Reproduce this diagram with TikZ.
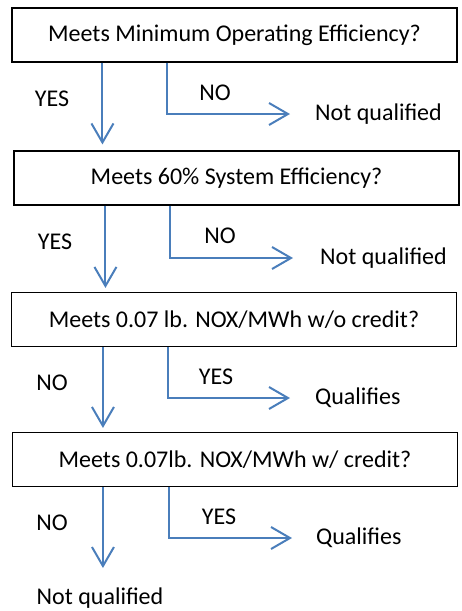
\documentclass[tikz,border=0pt]{standalone}
\usepackage{fontspec}
\setmainfont{Carlito}
\usetikzlibrary{arrows.meta}
\definecolor{arrblue}{HTML}{4A7EBB}
\begin{document}
\begin{tikzpicture}[x=1pt,y=-1pt,
  qbox/.style={draw=black, line width=1.1pt, minimum width=445pt, minimum height=54pt, inner sep=0pt, font=\fontsize{24}{28}\selectfont},
  lbl/.style={inner sep=0pt, font=\fontsize{24}{28}\selectfont},
  res/.style={inner sep=0pt, anchor=west, font=\fontsize{24}{28}\selectfont},
  arr/.style={draw=arrblue, line width=2pt, -{Straight Barb[length=19pt, width=22pt, line width=2pt]}}]
\useasboundingbox (0,0) rectangle (462,611);
\node[qbox] (b1) at (234.5,35) {Meets Minimum Operating Efficiency?};
\node[qbox] (b2) at (236.5,178) {Meets 60\% System Efficiency?};
\node[qbox] (b3) at (234,319.5) {Meets 0.07 lb. NOX/MWh w/o credit?};
\node[qbox] (b4) at (235,459.5) {Meets 0.07lb. NOX/MWh w/ credit?};
% section 1
\node[res] (r1) at (315,114) {Not qualified};
\node[lbl] (y1) at (52,99) {YES};
\node[lbl] (n1) at (215,93) {NO};
\draw[arr] (b1.south west) ++(91,0) coordinate (s1) -- ([yshift=6pt]s1 |- b2.north);
\draw[arr] (b1.south west) ++(156,0) coordinate (t1) |- ([xshift=-25pt]r1.west);
% section 2
\node[res] (r2) at (320,258) {Not qualified};
\node[lbl] (y2) at (55,242) {YES};
\node[lbl] (n2) at (220,236) {NO};
\draw[arr] (b2.south west) ++(92,0) coordinate (s2) -- ([yshift=4pt]s2 |- b3.north);
\draw[arr] (b2.south west) ++(157,0) coordinate (t2) |- ([xshift=-27pt]r2.west);
% section 3
\node[res] (r3) at (315,398) {Qualifies};
\node[lbl] (n3) at (52,383) {NO};
\node[lbl] (y3) at (216,377) {YES};
\draw[arr] (b3.south west) ++(92,0) coordinate (s3) -- ([yshift=4pt]s3 |- b4.north);
\draw[arr] (b3.south west) ++(157,0) coordinate (t3) |- ([xshift=-25pt]r3.west);
% section 4
\node[res] (r4) at (316,538) {Qualifies};
\node[lbl] (n4) at (52,523) {NO};
\node[lbl] (y4) at (219,517) {YES};
\node[lbl] (r5) at (100,598) {Not qualified};
\coordinate (e4) at (0,568);
\draw[arr] (b4.south west) ++(91,0) coordinate (s4) -- (s4 |- e4);
\draw[arr] (b4.south west) ++(157,0) coordinate (t4) |- ([xshift=-24pt]r4.west);
\end{tikzpicture}
\end{document}
